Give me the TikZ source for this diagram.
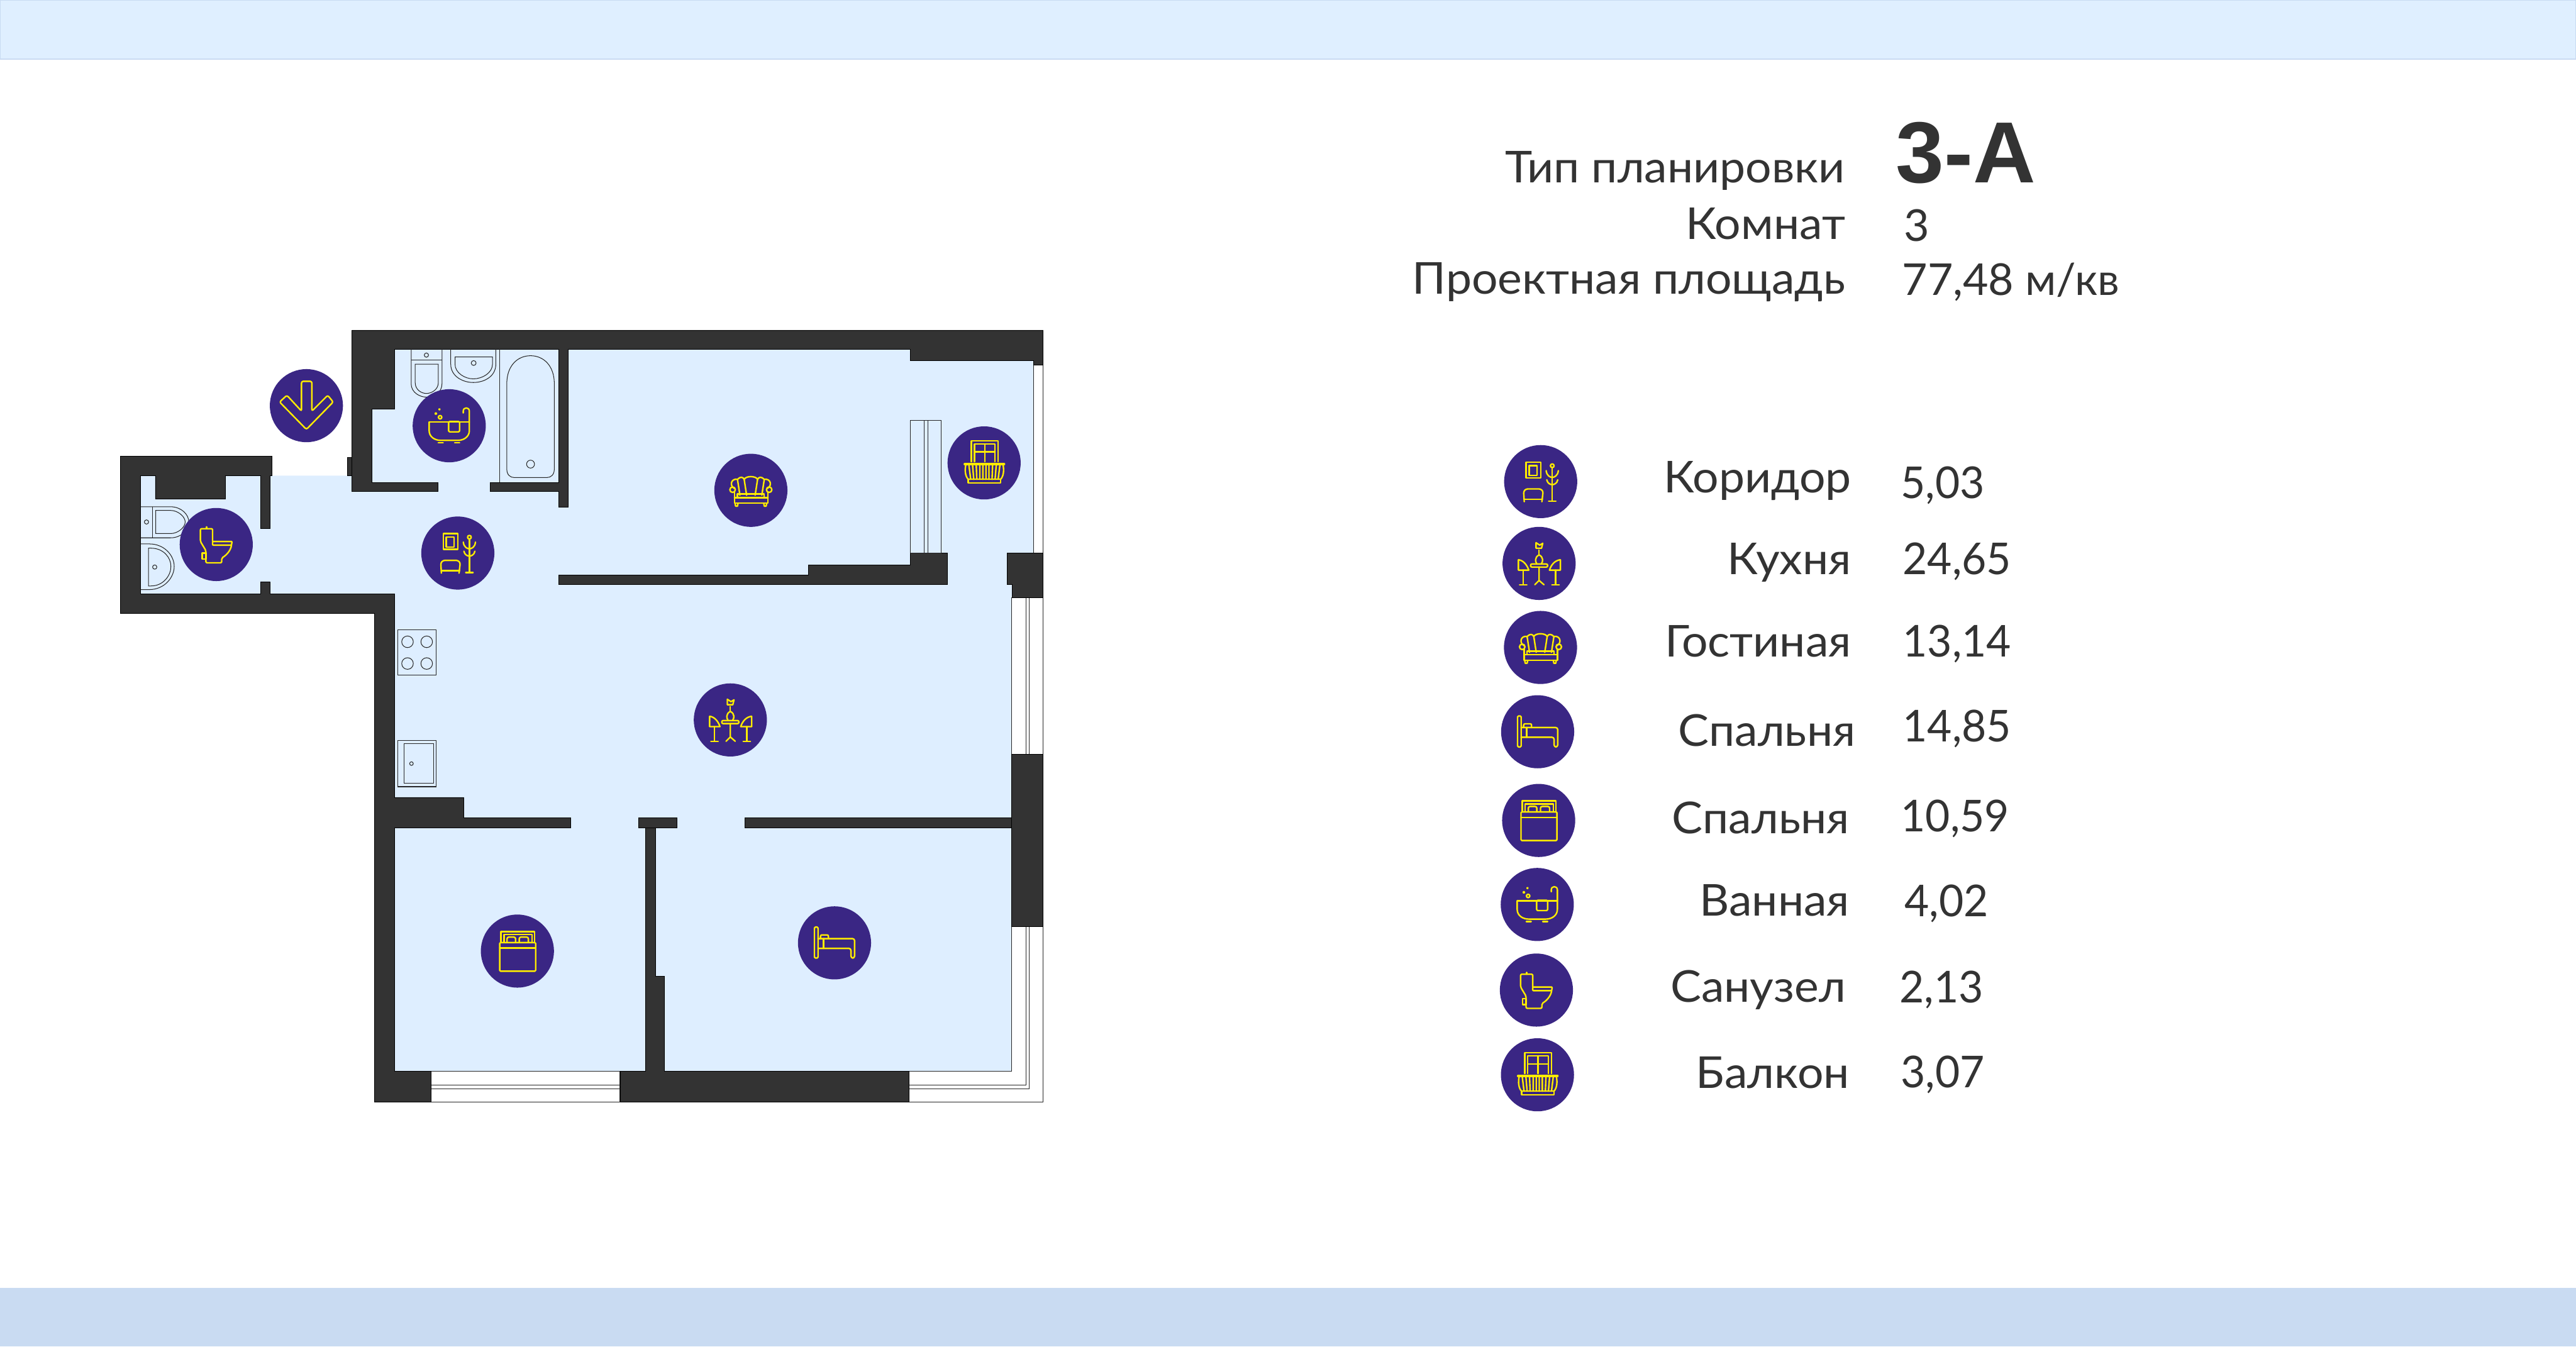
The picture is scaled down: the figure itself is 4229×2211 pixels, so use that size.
\documentclass[tikz,border=0pt]{standalone}
\usepackage{fontspec}
\setmainfont{Lato}
\newfontfamily\legendfont[FakeStretch=1.05]{Lato}
\newfontfamily\valuefont[FakeStretch=0.97]{Lato}
\newfontfamily\headfont[FakeStretch=1.05]{Lato}
\newfontfamily\titlefont{Liberation Sans}
\usepackage{tikz}
\definecolor{wallgray}{HTML}{333333}
\definecolor{roomblue}{HTML}{DEEEFF}
\definecolor{bandtop}{HTML}{DFEFFF}
\definecolor{bandbottom}{HTML}{C9DBF2}
\definecolor{iconblue}{HTML}{3A2684}
\definecolor{iconyellow}{HTML}{FFEC00}
\tikzset{
  wall/.style={draw=black, line width=0.2pt, fill=wallgray},
  fixture/.style={draw=black!85, line width=0.3pt},
  iconline/.style={draw=iconyellow, line width=0.7pt, line join=round, line cap=round},
  legendname/.style={anchor=base east, inner sep=0pt, font=\legendfont\fontsize{20.5}{24}\selectfont, text=wallgray},
  legendval/.style={anchor=base west, inner sep=0pt, font=\valuefont\fontsize{20.5}{24}\selectfont, text=wallgray},
  headname/.style={anchor=base east, inner sep=0pt, font=\headfont\fontsize{20.5}{24}\selectfont, text=wallgray},
  headval/.style={anchor=base west, inner sep=0pt, font=\fontsize{20.5}{24}\selectfont, text=wallgray},
  arrowicon/.pic={
    \fill[iconblue] (0,0) circle (60);
    \draw[iconline, rounded corners=0.8pt] (-8,9) -- (-8,-40) -- (9,-40) -- (9,9) -- (35,-17) -- (44,-6) -- (0,39) -- (-44,-6) -- (-32,-17) -- cycle;
  },
  hallicon/.pic={
    \fill[iconblue] (0,0) circle (60);
    \draw[iconline] (-24,-32) rectangle (0,-6);
    \draw[iconline] (-19,-26) rectangle (-6,-10);
    \draw[iconline] (19,-23) -- (19,32) (13,32) -- (25,32);
    \draw[iconline] (19,-26) circle (3);
    \draw[iconline] (9,-18) .. controls (10,-9) and (16,-7) .. (19,-7) .. controls (22,-7) and (28,-9) .. (29,-18);
    \draw[iconline] (10,-3) .. controls (11,3) and (16,5) .. (19,5) .. controls (22,5) and (27,3) .. (28,-3);
    \draw[iconline, rounded corners=0.8pt] (-27,33) -- (-28,16) -- (-24,12) -- (0,12) -- (4,16) -- (2,33);
    \draw[iconline] (-27,29) -- (3,29);
  },
  kitchenicon/.pic={
    \fill[iconblue] (0,0) circle (60);
    \draw[iconline, rounded corners=0.6pt] (-14,1) rectangle (14,6);
    \draw[iconline] (0,6) -- (0,28) (-7,35) -- (0,28) -- (8,35);
    \draw[iconline] (-34,-6) -- (-34,11) -- (-17,11) .. controls (-20,2) and (-26,-5) .. (-34,-6);
    \draw[iconline] (-26,11) -- (-26,35) (-32,35) -- (-20,35);
    \draw[iconline] (35,-6) -- (35,11) -- (17,11) .. controls (20,2) and (26,-5) .. (35,-6);
    \draw[iconline] (27,11) -- (27,35) (21,35) -- (33,35);
    \draw[iconline] (0,-14) .. controls (-8,-10) and (-6,-2) .. (-4,0) (0,-14) .. controls (8,-10) and (6,-2) .. (4,0);
    \draw[iconline] (0,-14) -- (0,-22);
    \draw[iconline] (-5,-34) -- (-5,-25) -- (4,-25) -- (6,-33) -- (1,-30) -- cycle;
  },
  livingicon/.pic={
    \fill[iconblue] (0,0) circle (60);
    \draw[iconline] (-7,8) -- (-11,-18) .. controls (-8,-24) and (8,-24) .. (11,-18) -- (7,8);
    \draw[iconline] (-18,8) -- (-22,-18) .. controls (-17,-23) and (-13,-22) .. (-11,-18);
    \draw[iconline] (18,8) -- (22,-18) .. controls (17,-23) and (13,-22) .. (11,-18);
    \draw[iconline] (-27,-3) .. controls (-36,-8) and (-32,-20) .. (-22,-18);
    \draw[iconline] (27,-3) .. controls (36,-8) and (32,-20) .. (22,-18);
    \draw[iconline] (-30,-1) circle (4.5) (30,-1) circle (4.5);
    \draw[iconline] (-27,3) -- (-27,21) -- (28,21) -- (28,3);
    \draw[iconline] (-22,11) -- (-22,6) -- (0,6) -- (22,6) -- (22,11) (-27,12) -- (28,12);
    \draw[iconline] (-26,21) -- (-25,26) -- (-22,26) -- (-21,21) (21,21) -- (22,26) -- (25,26) -- (26,21);
  },
  sbedicon/.pic={
    \fill[iconblue] (0,0) circle (60);
    \draw[iconline, rounded corners=0.5pt] (-33,-26) rectangle (-27,25);
    \draw[iconline, rounded corners=1pt] (-27,-7) -- (33,-7) -- (33,25) -- (27,25) -- (27,9) -- (-27,9);
    \draw[iconline, rounded corners=0.6pt] (-23,-7) -- (-23,-13) -- (-10,-13) -- (-10,-7);
    \draw[iconline] (-18,-7) -- (-18,9);
  },
  dbedicon/.pic={
    \fill[iconblue] (0,0) circle (60);
    \draw[iconline] (-27,-15) -- (-27,-32) -- (28,-32) -- (28,-15);
    \draw[iconline] (-22,-15) -- (-22,-27) -- (24,-27) -- (24,-15);
    \draw[iconline, rounded corners=0.8pt] (-17,-15) -- (-17,-23) -- (-3,-23) -- (-3,-15);
    \draw[iconline, rounded corners=0.8pt] (3,-15) -- (3,-23) -- (18,-23) -- (18,-15);
    \draw[iconline, rounded corners=0.4pt] (-29,-14) rectangle (30,33);
    \draw[iconline] (-29,-5) -- (30,-5);
  },
  bathicon/.pic={
    \fill[iconblue] (0,0) circle (60);
    \draw[iconline] (-33,-6) -- (33,-6);
    \draw[iconline] (-33,-6) -- (-33,8) .. controls (-33,18) and (-24,24) .. (-14,24) -- (14,24) .. controls (24,24) and (33,18) .. (33,8) -- (33,-24) .. controls (33,-31) and (23,-31) .. (23,-24) -- (23,-21);
    \draw[iconline, rounded corners=0.6pt] (-1,-7) rectangle (17,10);
    \draw[iconline] (-18,28) -- (-10,28) (9,28) -- (17,28);
    \draw[iconline] (-15,-14) circle (2.8) (-22,-20) circle (1.2) (-16,-27) circle (0.8);
  },
  wcicon/.pic={
    \fill[iconblue] (0,0) circle (60);
    \draw[iconline, rounded corners=0.6pt] (-6,-5) -- (-6,-26) -- (-26,-26) -- (-26,-5) -- (-17,10) -- (-17,30) -- (9,30) -- (9,22) .. controls (16,18) and (24,10) .. (25,1);
    \draw[iconline, rounded corners=0.3pt] (-6,-5) -- (26,-5) -- (25,1) -- (-6,1) -- cycle;
    \draw[iconline] (-16,-29) -- (-16,-26);
    \draw[iconline] (-23,14) rectangle (-17,24);
  },
  balconyicon/.pic={
    \fill[iconblue] (0,0) circle (60);
    \draw[iconline] (-21,-2) -- (-21,-36) -- (23,-36) -- (23,-2);
    \draw[iconline] (-16,-2) -- (-16,-31) -- (18,-31) -- (18,-2);
    \draw[iconline] (1,-31) -- (1,-2) (-16,-18) -- (18,-18);
    \draw[iconline, line width=1pt] (-32,2) -- (33,2);
    \draw[iconline] (-30,3) .. controls (-32,12) and (-31,22) .. (-26,27);
    \draw[iconline] (31,3) .. controls (33,12) and (32,22) .. (27,27);
    \draw[iconline] (-25,3) -- (-22,27) (-19,3) -- (-17,27) (-13,3) -- (-12,27) (-7,3) -- (-7,27) (-2,3) -- (-2,27);
    \draw[iconline] (3,3) -- (3,27) (8,3) -- (8,27) (14,3) -- (13,27) (20,3) -- (18,27) (26,3) -- (23,27);
    \draw[iconline] (-26,27) rectangle (27,33);
  },
}

\begin{document}
\begin{tikzpicture}[x=0.01cm, y=-0.01cm]
    \useasboundingbox (0,0) rectangle (4229,2211);
    \fill[white] (0,0) rectangle (4229,2211);
    % bands
    \filldraw[draw=bandbottom, fill=bandtop, line width=0.4pt] (0,0) rectangle (4229,97);
    \fill[bandbottom] (0,2114) rectangle (4229,2211);
    % floor
    \fill[roomblue] (231,781) -- (578,781) -- (578,573) -- (1494,573) -- (1494,592) -- (1697,592) -- (1697,908) -- (1661,908) -- (1661,1759) -- (647.7,1759) -- (647.7,975) -- (231,975) -- cycle;
    % windows
    \draw[fixture] (1697,599) rectangle (1712.6,908);
    \draw[fixture] (1661,981) rectangle (1712.6,1238);
    \draw[fixture] (1684,981) -- (1684,1238);
    \draw[fixture] (1690,981) -- (1690,1238);
    \draw[fixture] (1492,1759) -- (1661,1759) -- (1661,1521) -- (1712.6,1521) -- (1712.6,1809) -- (1492,1809);
    \draw[fixture] (1492,1781.6) -- (1684,1781.6) -- (1684,1521);
    \draw[fixture] (1492,1787.5) -- (1690,1787.5) -- (1690,1521);
    \draw[fixture] (708,1759) rectangle (1018,1809);
    \draw[fixture] (708,1781.6) -- (1018,1781.6);
    \draw[fixture] (708,1787.5) -- (1018,1787.5);
    % walls
    \filldraw[wall] (578,542) -- (1712.6,542) -- (1712.6,599) -- (1697,599) -- (1697,592) -- (1494,592) -- (1494,573) -- (933,573) -- (933,832) -- (917,832) -- (917,807) -- (805,807) -- (805,792) -- (917,792) -- (917,573) -- (647.5,573) -- (647.5,671) -- (610.6,671) -- (610.6,792) -- (719,792) -- (719,807) -- (578,807) -- cycle;
    \filldraw[wall] (570.5,751) rectangle (578,781);
    \filldraw[wall] (198,749) -- (446,749) -- (446,781) -- (443,781) -- (443,868) -- (427.5,868) -- (427.5,781) -- (370,781) -- (370,819) -- (255,819) -- (255,781) -- (231,781) -- (231,975) -- (427.5,975) -- (427.5,955) -- (443,955) -- (443,975) -- (647.7,975) -- (647.7,1309) -- (761,1309) -- (761,1342.6) -- (936.6,1342.6) -- (936.6,1358.8) -- (647.7,1358.8) -- (647.7,1759) -- (708,1759) -- (708,1809) -- (614.7,1809) -- (614.7,1007) -- (198,1007) -- cycle;
    \filldraw[wall] (917,944) -- (1327,944) -- (1327,927.7) -- (1494,927.7) -- (1494,908) -- (1555.5,908) -- (1555.5,959) -- (917,959) -- cycle;
    \filldraw[wall] (1653,908) -- (1712.6,908) -- (1712.6,981) -- (1661.6,981) -- (1661.6,959) -- (1653,959) -- cycle;
    \filldraw[wall] (1048,1342.6) rectangle (1111,1358.8);
    \filldraw[wall] (1060,1358.8) -- (1076,1358.8) -- (1076,1602.7) -- (1091,1602.7) -- (1091,1759) -- (1492,1759) -- (1492,1809) -- (1018,1809) -- (1018,1759) -- (1060,1759) -- cycle;
    \filldraw[wall] (1222.7,1342.6) rectangle (1661,1358.8);
    \filldraw[wall] (1661,1238) rectangle (1712.6,1521);
    % bathroom fixtures
    \draw[fixture] (675,573) -- (675,630) .. controls (675,645) and (690,652) .. (700,652) .. controls (712,652) and (725.6,645) .. (725.6,630) -- (725.6,573);
    \draw[fixture] (675,591) -- (725.6,591);
    \draw[fixture] (681.6,598) -- (719.6,598) -- (719.6,628) .. controls (719.6,640) and (708,646) .. (700,646) .. controls (692,646) and (681.6,640) .. (681.6,628) -- cycle;
    \draw[fixture] (700,583) circle (3.5);
    \draw[fixture] (740,573) -- (740,598) .. controls (740,618) and (760,628) .. (777,628) .. controls (795,628) and (814,618) .. (814,598) -- (814,573);
    \draw[fixture] (747,586) -- (808.5,586) -- (808.5,598) .. controls (808.5,612) and (792,622) .. (777,622) .. controls (763,622) and (747,612) .. (747,598) -- cycle;
    \draw[fixture] (777.6,596) circle (4);
    \draw[fixture] (820.4,573) -- (820.4,792);
    \draw[fixture] (832,630) .. controls (832,600) and (850,584) .. (871,584) .. controls (892,584) and (910,600) .. (910,630) -- (910,770) .. controls (910,780) and (904,784) .. (898,784) -- (844,784) .. controls (838,784) and (832,780) .. (832,770) -- cycle;
    \draw[fixture] (871,762) circle (6.5);
    % toilet fixtures
    \draw[fixture] (231,832) -- (280,832) .. controls (298,832) and (310,845) .. (310,857) .. controls (310,870) and (298,883) .. (280,883) -- (231,883);
    \draw[fixture] (250,832) -- (250,883);
    \draw[fixture] (255.6,838) -- (280,838) .. controls (292,838) and (304,848) .. (304,857) .. controls (304,866) and (292,876) .. (280,876) -- (255.6,876) -- cycle;
    \draw[fixture] (240.5,857) circle (3.5);
    \draw[fixture] (231,893) -- (245,893) .. controls (270,893) and (286,912) .. (286,930) .. controls (286,948) and (270,968) .. (245,968) -- (231,968);
    \draw[fixture] (243.7,900) -- (248,900) .. controls (268,900) and (280.6,915) .. (280.6,930) .. controls (280.6,945) and (268,962) .. (248,962) -- (243.7,962) -- cycle;
    \draw[fixture] (254,931) circle (3.5);
    % balcony door
    \draw[fixture] (1494,690) rectangle (1545,908);
    \draw[fixture] (1517,690) -- (1517,908);
    \draw[fixture] (1523.5,690) -- (1523.5,908);
    % kitchen fixtures
    \draw[fixture] (652.8,1033.6) rectangle (716,1108.4);
    \draw[fixture] (669,1053.7) circle (9.5);
    \draw[fixture] (700.5,1053.7) circle (9.5);
    \draw[fixture] (669,1089.4) circle (9.5);
    \draw[fixture] (700.5,1089.4) circle (9.5);
    \draw[fixture] (652.8,1215.7) rectangle (716,1291.6);
    \draw[fixture] (663.8,1221) rectangle (712,1286);
    \draw[fixture] (675.5,1253.7) circle (3);
    % plan icons
    \pic at (503,666) {arrowicon};
    \pic at (737.5,699) {bathicon};
    \pic at (355,894) {wcicon};
    \pic at (751.6,908) {hallicon};
    \pic at (1232.7,805) {livingicon};
    \pic at (1615.6,760) {balconyicon};
    \pic at (1199,1182) {kitchenicon};
    \pic at (849.4,1561.5) {dbedicon};
    \pic at (1370,1548) {sbedicon};
    % heading
    \node[headname] (tip) at (3030,300) {Тип планировки};
    \node[headname] (komnat) at (3030,393) {Комнат};
    \node[headname] (ploshad) at (3030,483) {Проектная площадь};
    \node[anchor=base west, inner sep=0pt, font=\titlefont\bfseries\fontsize{40.5}{44}\selectfont, text=wallgray] (tipval) at (3112,300) {3-А};
    \node[headval] (komnatval) at (3125,396) {3};
    \node[headval] (ploshadval) at (3122,485) {77,48 м/кв};
    % legend
    \pic at (2529.3,790.7) {hallicon};
    \pic at (2526.7,925) {kitchenicon};
    \pic at (2529,1063) {livingicon};
    \pic at (2524.3,1201.4) {sbedicon};
    \pic at (2526,1347) {dbedicon};
    \pic at (2523.7,1485) {bathicon};
    \pic at (2522.3,1625.5) {wcicon};
    \pic at (2524,1764.6) {balconyicon};
    \node[legendname] (koridor) at (3040,809) {Коридор};
    \node[legendname] (kuhnya) at (3040,943) {Кухня};
    \node[legendname] (gostinaya) at (3040,1078) {Гостиная};
    \node[legendname] (spalnyaA) at (3047,1225) {Спальня};
    \node[legendname] (spalnyaB) at (3037,1368) {Спальня};
    \node[legendname] (vannaya) at (3037,1504) {Ванная};
    \node[legendname] (sanuzel) at (3031,1645) {Санузел};
    \node[legendname] (balkon) at (3037,1787) {Балкон};
    \node[legendval] (koridorval) at (3120,818) {5,03};
    \node[legendval] (kuhnyaval) at (3123,943) {24,65};
    \node[legendval] (gostinayaval) at (3123,1078) {13,14};
    \node[legendval] (spalnyaAval) at (3123,1218) {14,85};
    \node[legendval] (spalnyaBval) at (3120,1365) {10,59};
    \node[legendval] (vannayaval) at (3126,1505) {4,02};
    \node[legendval] (sanuzelval) at (3118,1646) {2,13};
    \node[legendval] (balkonval) at (3120,1786) {3,07};
\end{tikzpicture}
\end{document}
